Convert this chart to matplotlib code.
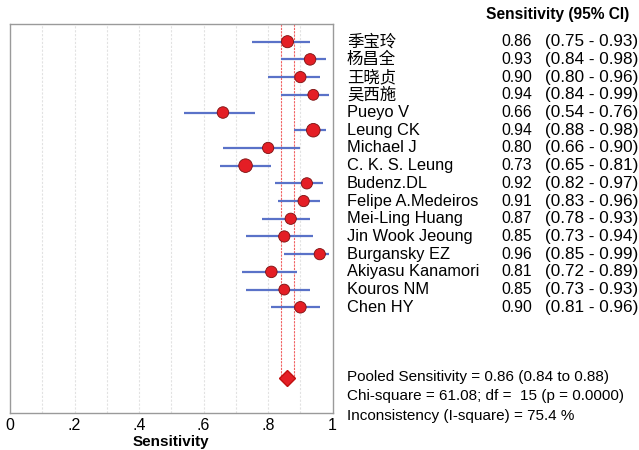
import numpy as np
import matplotlib
matplotlib.use("Agg")
import matplotlib.pyplot as plt
from matplotlib.transforms import blended_transform_factory

plt.rcParams['font.family'] = ['Liberation Sans', 'Noto Sans CJK SC', 'DejaVu Sans']

studies = ['季宝玲', '杨昌全', '王晓贞', '吴西施', 'Pueyo V', 'Leung CK', 'Michael J',
           'C. K. S. Leung', 'Budenz.DL', 'Felipe A.Medeiros', 'Mei-Ling Huang',
           'Jin Wook Jeoung', 'Burgansky EZ', 'Akiyasu Kanamori', 'Kouros NM', 'Chen HY']
sens = [0.86, 0.93, 0.90, 0.94, 0.66, 0.94, 0.80, 0.73, 0.92, 0.91, 0.87, 0.85, 0.96, 0.81, 0.85, 0.90]
ci_low = [0.75, 0.84, 0.80, 0.84, 0.54, 0.88, 0.66, 0.65, 0.82, 0.83, 0.78, 0.73, 0.85, 0.72, 0.73, 0.81]
ci_high = [0.93, 0.98, 0.96, 0.99, 0.76, 0.98, 0.90, 0.81, 0.97, 0.96, 0.93, 0.94, 0.99, 0.89, 0.93, 0.96]
# relative study weights (approximate), used for marker area
weights = [6.6, 6.0, 5.7, 5.3, 6.0, 8.3, 5.7, 8.3, 5.7, 5.7, 5.7, 5.7, 5.7, 6.0, 5.3, 6.0]

pooled = 0.86
pooled_low = 0.84
pooled_high = 0.88
stats_lines = ['Pooled Sensitivity = 0.86 (0.84 to 0.88)',
               'Chi-square = 61.08; df =  15 (p = 0.0000)',
               'Inconsistency (I-square) = 75.4 %']
xticks = [0, 0.2, 0.4, 0.6, 0.8, 1.0]
xtick_labels = ['0', '.2', '.4', '.6', '.8', '1']

fig = plt.figure(figsize=(6.39, 4.5), dpi=100)
ax = fig.add_axes([0.0156, 0.083, 0.505, 0.8637])

rows = np.arange(len(studies))
pooled_row = 19

# light vertical reference lines
for g in np.arange(0.1, 1.0, 0.1):
    ax.axvline(g, color='#e2e2e2', lw=0.8, ls=(0, (2, 1.5)), zorder=0)

# pooled CI band edges
ax.vlines([pooled_low, pooled_high], -1.0, pooled_row, colors='#f06060', lw=0.8,
          linestyles=(0, (2, 1)), zorder=1)

ax.hlines(rows, ci_low, ci_high, colors='#5a72c8', lw=1.6, zorder=2)
sizes = np.array(weights) * 11.5
ax.scatter(sens, rows, s=sizes, color='#e41e25', edgecolors='#7a1010', linewidths=0.6, zorder=3)
ax.plot([pooled], [pooled_row], marker='D', markersize=7.8, color='#e41e25',
        markeredgecolor='#c01010', zorder=3)

ax.set_xlim(0, 1)
ax.set_ylim(20.95, -1.0)
ax.set_yticks([])
ax.set_xticks(xticks)
ax.set_xticklabels(xtick_labels, fontsize=11.5)
ax.tick_params(axis='x', length=0, pad=4)
ax.set_xlabel('Sensitivity', fontsize=11, fontweight='bold', labelpad=1)
for sp in ax.spines.values():
    sp.set_color('#9a9a9a')
    sp.set_linewidth(1.0)

# study table to the right of the plot
tr = blended_transform_factory(fig.transFigure, ax.transData)
for i, name in enumerate(studies):
    ax.text(0.543, i, name, transform=tr, fontsize=11.8, va='center', ha='left', clip_on=False)
    ax.text(0.8326, i, f'{sens[i]:.2f}', transform=tr, fontsize=11.3, va='center', ha='right', clip_on=False)
    ax.text(0.853, i, f'({ci_low[i]:.2f} - {ci_high[i]:.2f})', transform=tr, fontsize=12.3,
            va='center', ha='left', clip_on=False)

fig.text(0.8725, 0.967, 'Sensitivity (95% CI)', fontsize=11.2, fontweight='bold', ha='center', va='center')

for k, line in enumerate(stats_lines):
    fig.text(0.543, 0.162 - k * 0.043, line, fontsize=11, ha='left', va='center')

fig.savefig('out.png', dpi=100)
